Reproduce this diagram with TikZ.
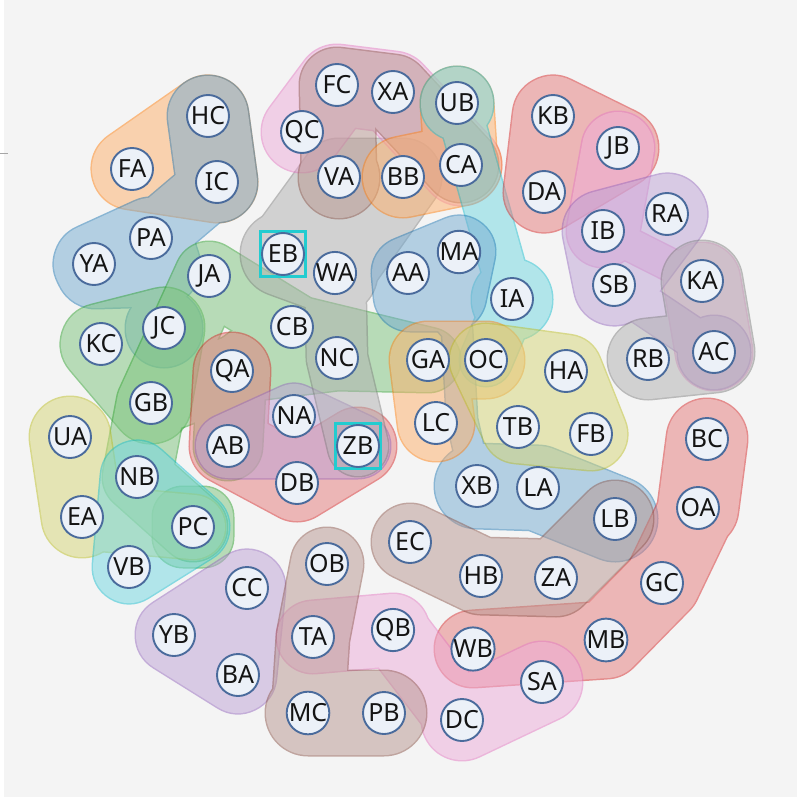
\documentclass[tikz,border=0pt]{standalone}
\usepackage{fontspec}
\setmainfont{Noto Sans}
\definecolor{cB}{HTML}{1F77B4}
\definecolor{cO}{HTML}{FF7F0E}
\definecolor{cG}{HTML}{2CA02C}
\definecolor{cR}{HTML}{D62728}
\definecolor{cP}{HTML}{9467BD}
\definecolor{cBr}{HTML}{8C564B}
\definecolor{cPk}{HTML}{E377C2}
\definecolor{cGy}{HTML}{7F7F7F}
\definecolor{cOl}{HTML}{BCBD22}
\definecolor{cC}{HTML}{17BECF}
\definecolor{bgc}{HTML}{F4F4F4}
\definecolor{ndfill}{HTML}{ECF1F8}
\definecolor{ndline}{HTML}{4A6B9C}
\definecolor{hlc}{HTML}{22CCD0}
\newcommand\blob[2]{%
  \begin{scope}[transparency group, opacity=0.5]
    \def\sg##1##2{\path[draw=#1,fill=#1,line cap=round,line join=round,line width=2*##1pt+3pt] ##2;}%
    #2%
    \def\sg##1##2{\path[draw=#1!62!white,fill=#1!62!white,line cap=round,line join=round,line width=2*##1pt] ##2;}%
    #2%
  \end{scope}}
\tikzset{
  nd/.style={circle, draw=ndline, fill=ndfill, line width=1.9pt, minimum size=42pt, inner sep=0pt,
    font=\fontsize{25}{25}\selectfont, text=black!92},
  hl/.style={rectangle, draw=hlc, line width=2.6pt, minimum size=45pt, inner sep=0pt}
}
\begin{document}
\begin{tikzpicture}[x=1pt,y=-1pt]
\useasboundingbox (0,0) rectangle (797,797);
\fill[bgc] (0,0) rectangle (797,797);
\fill[white] (0,0) rectangle (4,797);
\draw[black!35, line width=0.8pt] (0,153) -- (8,153);
% positions
\foreach \n/\x/\y in {HC/208/116, FA/132/169, IC/217/182, PA/151/238, YA/94/264, JA/209/276,
  KC/101/344, JC/164/328, GB/151/403, UA/70/437, NB/137/477, EA/82/517, PC/193/527, VB/129/567,
  QA/232/371, AB/228/446, CB/292/327, NC/337/358, NA/294/416, ZB/358/446, DB/297/483,
  GA/428/360, LC/436/423, FC/337/85, XA/393/92, UB/457/103, QC/302/132, VA/339/177, BB/403/177,
  CA/461/165, EB/283/254, WA/335/273, AA/408/273, MA/459/252, KB/553/116, JB/618/148, DA/544/192,
  IB/603/231, RA/667/214, SB/614/285, KA/702/281, IA/512/299, RB/648/359, AC/714/352, HA/566/371,
  OC/486/360, TB/518/427, FB/591/434, XB/477/486, LA/538/488, LB/615/519, EC/410/542, BC/707/439,
  OA/698/508, GC/662/583, MB/606/640, CC/247/588, YB/174/635, BA/238/675, OB/327/564, TA/313/637,
  MC/308/713, HB/481/576, ZA/556/578, QB/393/630, WB/473/649, SA/542/682, PB/384/713, DC/462/720}
  {\coordinate (p\n) at (\x,\y);}
% groups
\blob{cO}{\sg{40}{(pFA)--(pHC)--(pIC)--cycle}}
\blob{cB}{\sg{40}{(pHC)--(pIC)}\sg{32}{(pIC)--(pPA)}\sg{40}{(pYA)--(pPA)--(160,266)--(96,268)--cycle}\sg{26}{(pPA)--(pJC)}\sg{38}{(pJC)--++(0,1)}}
\blob{cG}{\sg{40}{(pKC)--(pJC)--(pGB)--cycle}\sg{30}{([shift={(-10,-10)}]pPC)--([shift={(10,-10)}]pPC)--([shift={(10,10)}]pPC)--([shift={(-10,10)}]pPC)--cycle}}
\blob{cG}{\sg{34}{(pJA)--(pGB) (pGB)--(pNB) (pNB)--(pPC) (pGB)--(pQA) (pJA)--(pCB) (pQA)--(pAB)}\sg{32}{(pQA)--(pCB)--(pGA)--(pNC)--cycle}}
\blob{cOl}{\sg{40}{(pUA)--(pEA)}\sg{32}{(pEA)--(pPC)}}
\blob{cC}{\sg{36}{(pNB)--(pPC)--(pVB)--cycle}}
\blob{cP}{\sg{38}{(pCC)--(pYB)--(pBA)--cycle}}
\blob{cR}{\sg{38}{(pQA)--(pAB) (pAB)--(pDB) (pDB)--(pZB)}}
\blob{cP}{\sg{32}{(pAB)--(pNA)--(pZB)--cycle}}
\blob{cGy}{\sg{38}{(pEB)--(pVA)--(pBB)--(pWA)--cycle}\sg{42}{(pEB)--(pWA)}\sg{30}{(pWA)--(pNC) (pNC)--(pZB)}}
\blob{cPk}{\sg{40}{(pQC)--(pFC) (pFC)--(pXA) (pXA)--(pCA)}}
\blob{cBr}{\sg{37}{(pVA)--(pFC) (pFC)--(pXA) (pXA)--(pCA)}\sg{40}{(pVA)--++(0,1)}}
\blob{cO}{\sg{40}{(pBB)--(pCA)}\sg{36}{(pCA)--(pUB)}}
\blob{cC}{\sg{36}{(pUB)--++(0,1)}\sg{22}{(pUB)--(pIA)}\sg{40}{(pIA)--++(0,1)}\sg{26}{(pIA)--(pOC)}}
\blob{cB}{\sg{36}{(pAA)--(pMA)--(450,295)--(410,295)--cycle}\sg{15}{(pAA)--(457,330) (457,330)--(462,420) (462,420)--(pXB)}\sg{42}{(pXB)--(pLA) (pLA)--(pLB)}}
\blob{cO}{\sg{38}{(pGA)--(pLC) (pGA)--(pOC)}}
\blob{cOl}{\sg{36}{(pOC)--(pHA)--(pFB)--(pTB)--cycle}}
\blob{cR}{\sg{40}{(pKB)--(pJB)--(pDA)--cycle}}
\blob{cPk}{\sg{36}{(pJB)--(pIB)}\sg{16}{(pIB)--(pKA)}\sg{38}{(pKA)--(pAC)}}
\blob{cP}{\sg{40}{(pRA)--(pIB)--(pSB)--cycle}\sg{20}{(pSB)--(pAC)}\sg{36}{(pAC)--++(0,1)}}
\blob{cGy}{\sg{40}{(pKA)--(pAC) (pRB)--(pAC)}}
\blob{cR}{\sg{40}{(pBC)--(pOA)}\sg{38}{(pOA)--(pGC) (pGC)--(pMB) (pMB)--(pWB)}}
\blob{cBr}{\sg{38}{(pEC)--(pHB) (pHB)--(pZA) (pZA)--(pLB)}}
\blob{cPk}{\sg{36}{(pTA)--(pQB)}\sg{34}{(pQB)--(pDC)}\sg{40}{(pDC)--(pSA)}}
\blob{cBr}{\sg{36}{(pOB)--(pTA) (pTA)--(pMC)}\sg{42}{(pMC)--(pPB)}}
% highlight squares
\node[hl] (hEB) at (pEB) {};
\node[hl] (hZB) at (pZB) {};
% nodes
\foreach \n in {HC,FA,IC,PA,YA,JA,KC,JC,GB,UA,NB,EA,PC,VB,QA,AB,CB,NC,NA,ZB,DB,GA,LC,FC,XA,UB,QC,VA,BB,
  CA,EB,WA,AA,MA,KB,JB,DA,IB,RA,SB,KA,IA,RB,AC,HA,OC,TB,FB,XB,LA,LB,EC,BC,OA,GC,MB,CC,YB,BA,OB,TA,
  MC,HB,ZA,QB,WB,SA,PB,DC}
  {\node[nd] (\n) at (p\n) {\n};}
\end{tikzpicture}
\end{document}
